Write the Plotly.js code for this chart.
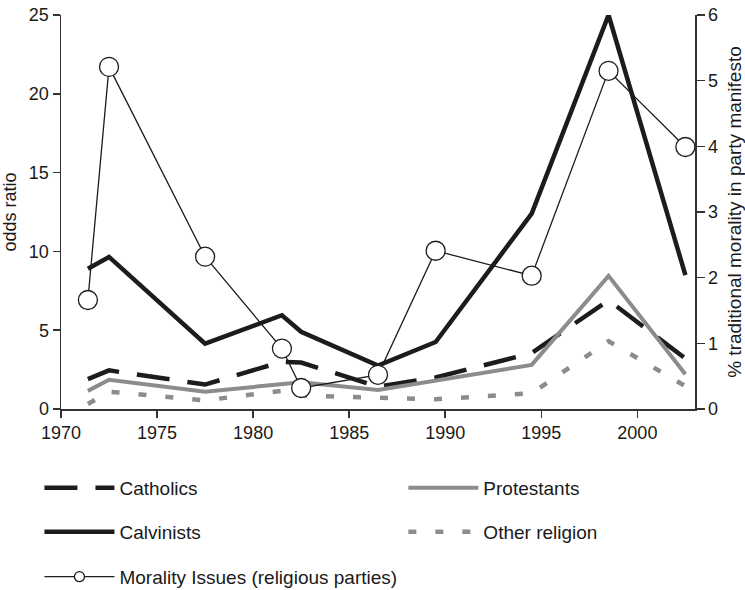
<!DOCTYPE html>
<html>
<head>
<meta charset="utf-8">
<script src="https://cdn.plot.ly/plotly-3.0.1.min.js"></script>
<style>html,body{margin:0;padding:0;background:#fff;}#chart{width:745px;height:590px;}</style>
</head>
<body>
<div id="chart"></div>
<script>
// Election years (plotted at mid-year)
var years = [1971.4, 1972.5, 1977.5, 1981.5, 1982.5, 1986.5, 1989.5, 1994.5, 1998.5, 2002.5];
// Odds ratios (left axis)
var catholics   = [1.9, 2.45, 1.55, 3.0, 2.95, 1.42, 2.0, 3.55, 6.9, 3.2];
var protestants = [1.15, 1.85, 1.1, 1.55, 1.7, 1.2, 1.8, 2.8, 8.45, 2.2];
var calvinists  = [8.9, 9.65, 4.15, 5.95, 4.9, 2.75, 4.25, 12.4, 25.0, 8.5];
var otherRel    = [0.32, 1.1, 0.55, 1.15, 0.85, 0.75, 0.62, 1.0, 4.3, 1.45];
// % traditional morality in party manifesto (right axis)
var morality    = [1.66, 5.21, 2.32, 0.92, 0.32, 0.52, 2.41, 2.03, 5.15, 3.99];

var xTicks = [1970, 1975, 1980, 1985, 1990, 1995, 2000];
var yLeftTicks = [0, 5, 10, 15, 20, 25];
var yRightTicks = [0, 1, 2, 3, 4, 5, 6];

var black = '#1c1c1c';
var gray = '#8c8c8c';
var fontFam = '"Liberation Sans", Arial, sans-serif';

var data = [
  {x: years, y: catholics, name: 'Catholics', mode: 'lines', legend: 'legend',
   line: {color: black, width: 4.5, dash: '33px,18px'}},
  {x: years, y: protestants, name: 'Protestants', mode: 'lines', legend: 'legend2',
   line: {color: gray, width: 4}},
  {x: years, y: calvinists, name: 'Calvinists', mode: 'lines', legend: 'legend3',
   line: {color: black, width: 4.5}},
  {x: years, y: otherRel, name: 'Other religion', mode: 'lines', legend: 'legend4',
   line: {color: gray, width: 4.5, dash: '8px,19px'}},
  {x: years, y: morality, name: 'Morality Issues (religious parties)', mode: 'lines+markers',
   yaxis: 'y2', showlegend: false,
   line: {color: black, width: 1.3},
   marker: {symbol: 'circle', size: 19, color: '#ffffff', line: {color: black, width: 1.3}}},
  // legend-only entry (smaller symbol, like the reference key)
  {x: [null], y: [null], name: 'Morality Issues (religious parties)', mode: 'lines+markers',
   yaxis: 'y2', legend: 'legend5',
   line: {color: black, width: 1.3},
   marker: {symbol: 'circle', size: 10, color: '#ffffff', line: {color: black, width: 1.3}}}
];

function legendDef(xv, yv) {
  return {
    orientation: 'v', x: xv, xanchor: 'left', y: yv, yanchor: 'middle',
    itemwidth: 70,
    font: {family: fontFam, size: 19, color: '#1a1a1a'},
    bgcolor: 'rgba(0,0,0,0)', borderwidth: 0, itemclick: false
  };
}

var axisCommon = {
  showgrid: false, zeroline: false, showline: true, linecolor: '#333', linewidth: 1.5,
  ticks: 'outside', ticklen: 7, tickcolor: '#333', tickwidth: 1.5,
  tickfont: {family: fontFam, size: 18, color: '#1a1a1a'}, automargin: false
};

var layout = {
  width: 745, height: 590,
  margin: {l: 61, r: 50, t: 15, b: 181, autoexpand: false},
  paper_bgcolor: '#ffffff', plot_bgcolor: '#ffffff',
  font: {family: fontFam, size: 18, color: '#1a1a1a'},
  showlegend: true,
  xaxis: Object.assign({}, axisCommon, {
    range: [1970, 2003], tickvals: xTicks, ticktext: xTicks.map(String)
  }),
  yaxis: Object.assign({}, axisCommon, {
    range: [0, 25], tickvals: yLeftTicks, ticktext: yLeftTicks.map(String),
    title: {text: 'odds ratio', font: {family: fontFam, size: 18, color: '#1a1a1a'}, standoff: 8}
  }),
  yaxis2: Object.assign({}, axisCommon, {
    range: [0, 6], tickvals: yRightTicks, ticktext: yRightTicks.map(String),
    overlaying: 'y', side: 'right', ticklen: 8,
    title: {text: '% traditional morality in party manifesto', font: {family: fontFam, size: 19, color: '#1a1a1a'}, standoff: 32}
  }),
  legend: legendDef(-0.034, -0.2),
  legend2: legendDef(0.54, -0.2),
  legend3: legendDef(-0.034, -0.312),
  legend4: legendDef(0.54, -0.312),
  legend5: legendDef(-0.034, -0.426)
};

Plotly.newPlot('chart', data, layout, {staticPlot: true, displayModeBar: false});
</script>
</body>
</html>
